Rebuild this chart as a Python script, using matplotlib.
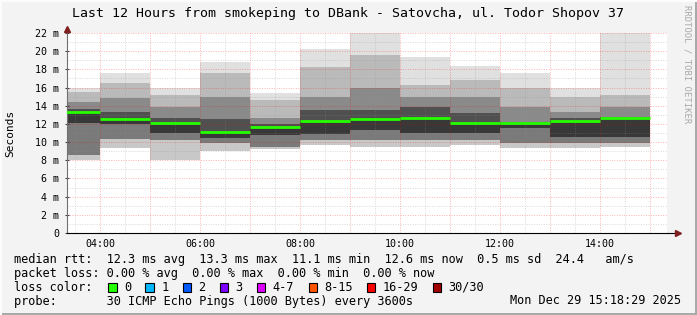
import matplotlib
matplotlib.use("Agg")
import matplotlib.pyplot as plt
from matplotlib.patches import Rectangle

# ------------------------------------------------------------------
# data, one smoke bar per hour
# ------------------------------------------------------------------
bar_start = [3, 4, 5, 6, 7, 8, 9, 10, 11, 12, 13, 14]          # hour of day
ping_max = [16.0, 17.6, 16.0, 18.8, 15.4, 20.2, 22.5, 19.4, 18.4, 17.6, 16.0, 22.5]
ping_p90 = [15.5, 16.5, 15.2, 17.6, 14.6, 18.3, 19.6, 16.3, 16.8, 15.9, 15.0, 15.2]
ping_p75 = [14.4, 14.8, 13.9, 15.0, 12.6, 15.0, 15.9, 15.0, 15.0, 13.9, 13.3, 13.9]
ping_p60 = [13.6, 13.3, 12.6, 12.5, 12.0, 13.5, 13.5, 13.9, 13.2, 12.2, 12.6, 12.8]
median = [13.3, 12.5, 12.1, 11.1, 11.7, 12.3, 12.5, 12.7, 12.1, 12.1, 12.3, 12.6]
ping_p40 = [12.1, 12.0, 11.0, 10.4, 10.8, 10.9, 11.3, 11.0, 11.0, 11.5, 10.6, 10.6]
ping_p25 = [8.6, 10.3, 10.2, 9.9, 9.5, 10.2, 10.2, 10.2, 10.2, 9.9, 9.9, 9.9]
ping_min = [8.0, 9.3, 8.0, 9.0, 9.2, 9.7, 9.5, 9.5, 9.7, 9.3, 9.3, 9.5]

y_ticks = [0, 2, 4, 6, 8, 10, 12, 14, 16, 18, 20, 22]
y_labels = ["0", "2 m", "4 m", "6 m", "8 m", "10 m", "12 m", "14 m", "16 m", "18 m", "20 m", "22 m"]
x_ticks = [4, 6, 8, 10, 12, 14]
x_labels = ["04:00", "06:00", "08:00", "10:00", "12:00", "14:00"]

loss_labels = ["0", "1", "2", "3", "4-7", "8-15", "16-29", "30/30"]
loss_colors = ["#26ff00", "#00b8ff", "#0059ff", "#7e00ff", "#dd00ff", "#ff5500", "#ff0000", "#a10000"]

title = "Last 12 Hours from smokeping to DBank - Satovcha, ul. Todor Shopov 37"
line_rtt = "median rtt:  12.3 ms avg  13.3 ms max  11.1 ms min  12.6 ms now  0.5 ms sd  24.4   am/s"
line_loss = "packet loss: 0.00 % avg  0.00 % max  0.00 % min  0.00 % now"
line_probe = "probe:       30 ICMP Echo Pings (1000 Bytes) every 3600s"
stamp = "Mon Dec 29 15:18:29 2025"

# ------------------------------------------------------------------
W, H = 697, 315
MONO = "DejaVu Sans Mono"
plt.rcParams["font.family"] = MONO

fig = plt.figure(figsize=(W / 100, H / 100), dpi=100, facecolor="#f3f3f3")


def fx(px):
    return px / W


def fy(py):
    return 1 - py / H


ax = fig.add_axes([fx(67), fy(233), fx(600), 200 / H])
ax.set_facecolor("white")
ax.set_xlim(3.34, 15.34)
ax.set_ylim(0, 22)

# smoke bands (light outside, dark around the median)
bands = [
    (ping_p90, ping_max, "#e0e0e0"),
    (ping_p75, ping_p90, "#bababa"),
    (ping_p60, ping_p75, "#8a8a8a"),
    (median, ping_p60, "#505050"),
    (ping_p40, median, "#383838"),
    (ping_p25, ping_p40, "#7a7a7a"),
    (ping_min, ping_p25, "#c8c8c8"),
]
for lo, hi, col in bands:
    ax.bar(bar_start, [h - l for l, h in zip(lo, hi)], bottom=lo, width=1.0,
           align="edge", color=col, linewidth=0, zorder=1)

# grid on top of the smoke, faint dotted
dots = (0, (1, 1.5))
for h in range(3, 16):
    ax.axvline(h + 0.5, color="#909090", alpha=0.35, lw=0.7, ls=dots, zorder=2)
    ax.axvline(h, color="#ff0000", alpha=0.3, lw=0.7, ls=dots, zorder=2)
for v in range(1, 23):
    if v % 2:
        ax.axhline(v, color="#909090", alpha=0.35, lw=0.7, ls=dots, zorder=2)
    else:
        ax.axhline(v, color="#ff0000", alpha=0.3, lw=0.7, ls=dots, zorder=2)

# median rtt
ax.hlines(median, bar_start, [b + 1 for b in bar_start], color="#26ff00",
          lw=2.0, zorder=3)

for s in ["top", "right"]:
    ax.spines[s].set_visible(False)
ax.spines["left"].set_color("#707070")
ax.spines["bottom"].set_color("#000000")
ax.set_yticks(y_ticks, y_labels)
ax.set_xticks(x_ticks, x_labels)
ax.tick_params(axis="both", labelsize=7.2, length=3, width=0.8, direction="inout",
               color="#404040")
ax.tick_params(axis="y", pad=4)
ax.tick_params(axis="x", pad=4, length=0)

# axis arrows
ax.plot([3.34], [22.45], marker="^", ms=4, color="#7f1f1f", clip_on=False, zorder=5)
ax.plot([3.34, 3.34], [22, 22.4], color="#707070", lw=0.8, clip_on=False)
ax.plot([15.34, 15.5], [0, 0], color="#000000", lw=0.8, clip_on=False)
ax.plot([15.55], [0], marker=">", ms=4, color="#7f1f1f", clip_on=False, zorder=5)

fig.text(fx(348.5), fy(13.5), title, ha="center", va="center", fontsize=9.5)
fig.text(fx(10), fy(133), "Seconds", rotation=90, ha="center", va="center", fontsize=8)
fig.text(fx(687), fy(5), "RRDTOOL / TOBI OETIKER", rotation=270, ha="center", va="top",
         fontsize=6.4, color="#a8a8a8")

cw = 7.16
x0 = 14.2
fig.text(fx(x0), fy(259.3), line_rtt, ha="left", va="center", fontsize=8.6)
fig.text(fx(x0), fy(273.3), line_loss, ha="left", va="center", fontsize=8.6)
fig.text(fx(x0), fy(287.3), "loss color:", ha="left", va="center", fontsize=8.6)
fig.text(fx(x0), fy(301), line_probe, ha="left", va="center", fontsize=8.6)
fig.text(fx(681), fy(301), stamp, ha="right", va="center", fontsize=8.6)

x = 108.3
for lab, col in zip(loss_labels, loss_colors):
    fig.add_artist(Rectangle((fx(x), fy(291.7)), 8.3 / W, 8.3 / H, facecolor=col,
                             edgecolor="black", lw=0.8, transform=fig.transFigure))
    fig.text(fx(x + 15.7), fy(287.3), lab, ha="left", va="center", fontsize=8.6)
    x += 15.7 + len(lab) * cw + 2 * cw

# frame
fig.add_artist(Rectangle((0, 0), 1, 2.5 / H, facecolor="#a9a9a9", lw=0,
                         transform=fig.transFigure))
fig.add_artist(Rectangle((1 - 2.5 / W, 0), 2.5 / W, 1, facecolor="#a9a9a9", lw=0,
                         transform=fig.transFigure))
fig.add_artist(Rectangle((0, 1 - 2 / H), 1, 2 / H, facecolor="#fcfcfc", lw=0,
                         transform=fig.transFigure))
fig.add_artist(Rectangle((0, 0), 2 / W, 1, facecolor="#fcfcfc", lw=0,
                         transform=fig.transFigure))

fig.savefig("out.png", dpi=100, facecolor=fig.get_facecolor())
